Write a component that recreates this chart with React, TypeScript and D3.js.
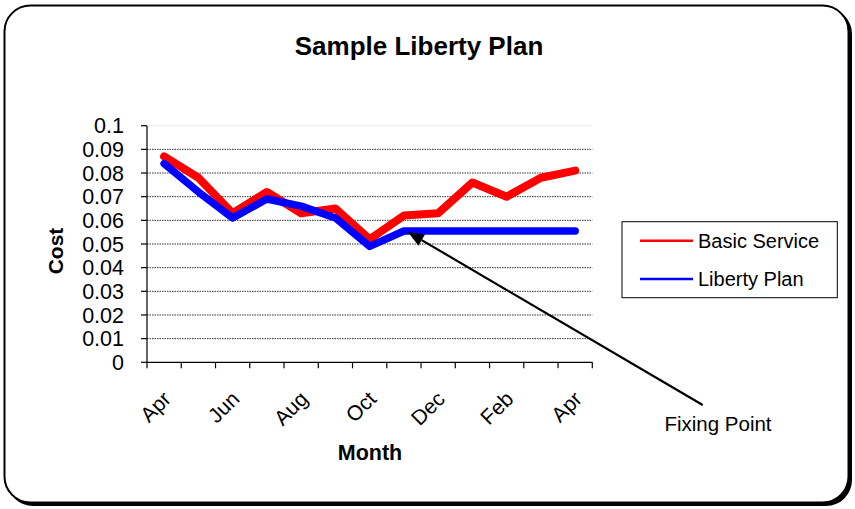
import * as React from 'react';
import * as d3 from 'd3';

// chart data
const months = ['Apr', 'May', 'Jun', 'Jul', 'Aug', 'Sep', 'Oct', 'Nov', 'Dec', 'Jan', 'Feb', 'Mar', 'Apr'];
const basicService = [0.087, 0.078, 0.063, 0.072, 0.063, 0.065, 0.052, 0.062, 0.063, 0.076, 0.070, 0.078, 0.081];
const libertyPlan = [0.084, 0.072, 0.061, 0.069, 0.066, 0.061, 0.049, 0.0555, 0.0555, 0.0555, 0.0555, 0.0555, 0.0555];
const yTicks = [0, 0.01, 0.02, 0.03, 0.04, 0.05, 0.06, 0.07, 0.08, 0.09, 0.1];
const fixingIndex = 7;

const FONT = '"Liberation Sans", Arial, sans-serif';
const W = 855;
const H = 509;
const plot = { left: 147, right: 592.3, top: 125.7, bottom: 362.3 };

export default function App() {
  const x = d3.scaleBand<number>()
    .domain(d3.range(months.length))
    .range([plot.left, plot.right])
    .padding(0);
  const y = d3.scaleLinear().domain([0, 0.1]).range([plot.bottom, plot.top]);
  const cx = (i: number) => x(i)! + x.bandwidth() / 2;

  const line = d3.line<number>()
    .x((_, i) => cx(i))
    .y(d => y(d));

  // annotation arrow
  const tip = { x: cx(fixingIndex) + 4, y: y(libertyPlan[fixingIndex]) + 1 };
  const tail = { x: 702.7, y: 405 };
  const ang = Math.atan2(tail.y - tip.y, tail.x - tip.x);
  const hl = 16, hw = 6.5;
  const bx = tip.x + hl * Math.cos(ang), by = tip.y + hl * Math.sin(ang);
  const head = [
    [tip.x, tip.y],
    [bx + hw * Math.sin(ang), by - hw * Math.cos(ang)],
    [bx - hw * Math.sin(ang), by + hw * Math.cos(ang)],
  ].map(p => p.join(',')).join(' ');

  const boundaries = d3.range(months.length + 1).map(i =>
    i < months.length ? x(i)! : plot.right);

  return (
    <svg width={W} height={H} style={{ position: 'absolute', left: 0, top: 0 }} fontFamily={FONT}>
      <rect x={0} y={0} width={W} height={H} fill="#fff" />
      {/* frame with shadow */}
      <rect x={7} y={8} width={845} height={498} rx={26} fill="#000" />
      <rect x={4.5} y={5.5} width={844} height={497} rx={26} fill="#fff" stroke="#000" strokeWidth={2} />

      <text x={419} y={55} textAnchor="middle" fontSize={26} fontWeight="bold">Sample Liberty Plan</text>

      {/* gridlines */}
      {yTicks.filter(t => t > 0).map((t, i) => (
        <line key={i} x1={plot.left} x2={plot.right} y1={y(t)} y2={y(t)}
          stroke={t === 0.1 ? '#eee' : '#333'} strokeWidth={1}
          strokeDasharray={t === 0.1 ? undefined : '1.5,1'} />
      ))}

      {/* y axis */}
      <line x1={plot.left} x2={plot.left} y1={plot.top} y2={plot.bottom} stroke="#000" strokeWidth={1.2} />
      {yTicks.map((t, i) => (
        <g key={i} transform={translate(0, y(t))}>
          <line x1={plot.left - 6} x2={plot.left} stroke="#000" strokeWidth={1.2} />
          <text x={124} dy="0.36em" textAnchor="end" fontSize={21.5}>{String(t)}</text>
        </g>
      ))}

      {/* x axis */}
      <line x1={plot.left} x2={plot.right} y1={plot.bottom} y2={plot.bottom} stroke="#000" strokeWidth={1.2} />
      {boundaries.map((bxv, i) => (
        <line key={i} x1={bxv} x2={bxv} y1={plot.bottom} y2={plot.bottom + 6} stroke="#000" strokeWidth={1.2} />
      ))}
      {months.map((m, i) => i % 2 === 0 && (
        <text key={i} transform={`translate(${cx(i) + 8},${plot.bottom + 38}) rotate(-45)`}
          textAnchor="end" fontSize={21}>{m}</text>
      ))}

      {/* series */}
      <path d={line(basicService)!} fill="none" stroke="#ff0000" strokeWidth={8}
        strokeLinejoin="round" strokeLinecap="round" />
      <path d={line(libertyPlan)!} fill="none" stroke="#0000ff" strokeWidth={7.5}
        strokeLinejoin="round" strokeLinecap="round" />

      {/* axis titles */}
      <text transform="translate(62.5,251) rotate(-90)" textAnchor="middle" fontSize={21} fontWeight="bold">Cost</text>
      <text x={370} y={460} textAnchor="middle" fontSize={21.5} fontWeight="bold">Month</text>

      {/* legend */}
      <rect x={622} y={221.7} width={215.3} height={76} fill="#fff" stroke="#000" strokeWidth={1} />
      <line x1={640} x2={693} y1={240.7} y2={240.7} stroke="#ff0000" strokeWidth={2.5} />
      <text x={698} y={240.7} dy="0.36em" fontSize={20}>Basic Service</text>
      <line x1={640} x2={693} y1={279} y2={279} stroke="#0000ff" strokeWidth={2.5} />
      <text x={698} y={279} dy="0.36em" fontSize={20}>Liberty Plan</text>

      {/* annotation */}
      <line x1={tail.x} y1={tail.y} x2={bx} y2={by} stroke="#000" strokeWidth={2.2} />
      <polygon points={head} fill="#000" />
      <text x={718} y={431} textAnchor="middle" fontSize={20.5}>Fixing Point</text>
    </svg>
  );
}

function translate(x: number, y: number) {
  return `translate(${x}, ${y})`;
}
